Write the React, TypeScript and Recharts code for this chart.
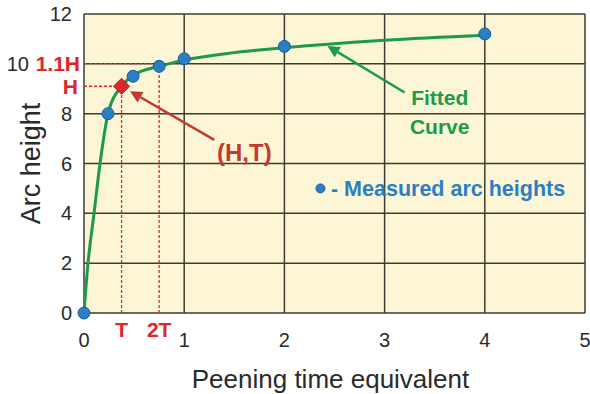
import {
  ComposedChart,
  Line,
  Scatter,
  XAxis,
  YAxis,
  CartesianGrid,
  ReferenceLine,
  ReferenceDot,
} from "recharts";

// measured arc heights (blue dots)
const measuredTime = [0, 0.24, 0.49, 0.75, 1, 2, 4];
const measuredHeight = [0, 8.0, 9.5, 9.9, 10.2, 10.7, 11.2];

// fitted curve
const fitTime = [0, 0.04, 0.1, 0.16, 0.24, 0.375, 0.5, 0.75, 1, 1.5, 2, 3, 4];
const fitHeight = [0, 2, 4, 6, 8, 9.1, 9.55, 9.9, 10.15, 10.45, 10.65, 10.95, 11.15];

// saturation point (H,T)
const H = 9.1;
const T = 0.375;

const xTicks = [0, 1, 2, 3, 4, 5];
const yTicks = [0, 2, 4, 6, 8, 10, 12];

const measured = measuredTime.map((t, i) => ({ t, h: measuredHeight[i] }));
const fitted = fitTime.map((t, i) => ({ t, h: fitHeight[i] }));
const saturation = [{ t: T, h: H }];

const FONT = "'Liberation Sans', Arial, sans-serif";
const RED = "#e0262b";
const DARK_RED = "#c23a2e";
const GREEN = "#1d9a4a";
const BLUE = "#2a7fc4";
const GRID = "#3f3b2e";
const TEXT = "#2a2a2a";

const arrow = (color: string) => (p: any) => {
  const { x1, y1, x2, y2 } = p;
  const a = Math.atan2(y2 - y1, x2 - x1);
  const len = 12;
  const w = 6;
  const bx = x2 - len * Math.cos(a);
  const by = y2 - len * Math.sin(a);
  const pts = [
    `${x2},${y2}`,
    `${bx + w * Math.sin(a)},${by - w * Math.cos(a)}`,
    `${bx - w * Math.sin(a)},${by + w * Math.cos(a)}`,
  ].join(" ");
  return (
    <g>
      <line x1={x1} y1={y1} x2={bx} y2={by} stroke={color} strokeWidth={2.5} />
      <polygon points={pts} fill={color} />
    </g>
  );
};

const YTick = (p: any) => {
  const { x, y, payload } = p;
  // "10" is pushed left to make room for the 1.1H label
  const dx = payload.value === 10 ? -43 : 0;
  return (
    <text x={x + dx} y={y} dy="0.35em" textAnchor="end" fill={TEXT} fontSize={20} fontFamily={FONT}>
      {payload.value}
    </text>
  );
};

const YLabel = (p: any) => {
  const { viewBox } = p;
  const cx = viewBox.x + 31;
  const cy = viewBox.y + viewBox.height / 2;
  return (
    <text
      x={cx}
      y={cy}
      transform={`rotate(-90 ${cx} ${cy})`}
      textAnchor="middle"
      dominantBaseline="central"
      fill={TEXT}
      fontSize={27}
      fontFamily={FONT}
    >
      Arc height
    </text>
  );
};

const redLabel = { fill: RED, fontSize: 21, fontWeight: "bold", fontFamily: FONT };

export default function App() {
  return (
    <div style={{ position: "absolute", left: 0, top: 0 }}>
      <ComposedChart width={590} height={394} margin={{ top: 14, right: 5, left: 0, bottom: 0 }}>
        <CartesianGrid stroke={GRID} strokeWidth={1.5} fill="#fcf6d6" fillOpacity={1} />
        <XAxis
          type="number"
          dataKey="t"
          domain={[0, 5]}
          ticks={xTicks}
          axisLine={false}
          tickLine={false}
          tickSize={0}
          tickMargin={20}
          height={81}
          tick={{ fill: TEXT, fontSize: 20, fontFamily: FONT }}
          label={{
            value: "Peening time equivalent",
            position: "insideBottom",
            offset: 6,
            fill: TEXT,
            fontSize: 26,
            fontFamily: FONT,
            dx: -4,
          }}
        />
        <YAxis
          type="number"
          dataKey="h"
          domain={[0, 12]}
          ticks={yTicks}
          axisLine={false}
          tickLine={false}
          tickSize={0}
          tickMargin={12}
          width={84}
          tick={<YTick />}
          label={<YLabel />}
        />

        {/* dashed construction lines */}
        <ReferenceLine
          segment={[{ x: 0, y: H }, { x: T, y: H }]}
          stroke={RED}
          strokeDasharray="3 2"
          strokeWidth={1.3}
          ifOverflow="visible"
          label={{ value: "H", position: "left", offset: 6, ...redLabel }}
        />
        <ReferenceLine
          segment={[{ x: 0, y: 1.1 * H }, { x: 2 * T, y: 1.1 * H }]}
          stroke={RED}
          strokeDasharray="3 2"
          strokeWidth={1.3}
          ifOverflow="visible"
          label={{ value: "1.1H", position: "left", offset: 4, ...redLabel }}
        />
        <ReferenceLine
          segment={[{ x: T, y: 0 }, { x: T, y: H }]}
          stroke={RED}
          strokeDasharray="3 2"
          strokeWidth={1.3}
          ifOverflow="visible"
          label={{ value: "T", position: "bottom", offset: 9, ...redLabel }}
        />
        <ReferenceLine
          segment={[{ x: 2 * T, y: 0 }, { x: 2 * T, y: 1.1 * H }]}
          stroke={RED}
          strokeDasharray="3 2"
          strokeWidth={1.3}
          ifOverflow="visible"
          label={{ value: "2T", position: "bottom", offset: 9, ...redLabel }}
        />

        <Line
          data={fitted}
          dataKey="h"
          type="monotone"
          stroke={GREEN}
          strokeWidth={3}
          dot={false}
          activeDot={false}
          isAnimationActive={false}
        />

        {/* arrows */}
        <ReferenceLine
          segment={[{ x: 1.3, y: 6.95 }, { x: 0.46, y: 8.9 }]}
          shape={arrow(DARK_RED)}
          ifOverflow="visible"
        />
        <ReferenceLine
          segment={[{ x: 3.2, y: 8.85 }, { x: 2.43, y: 10.72 }]}
          shape={arrow(GREEN)}
          ifOverflow="visible"
        />

        <Scatter
          data={measured}
          dataKey="h"
          isAnimationActive={false}
          shape={(p: any) => (
            <circle cx={p.cx} cy={p.cy} r={6} fill={BLUE} stroke="#1b5f96" strokeWidth={1} />
          )}
        />
        <Scatter
          data={saturation}
          dataKey="h"
          isAnimationActive={false}
          shape={(p: any) => (
            <polygon
              points={`${p.cx},${p.cy - 8} ${p.cx + 8},${p.cy} ${p.cx},${p.cy + 8} ${p.cx - 8},${p.cy}`}
              fill={RED}
              stroke="#b01818"
              strokeWidth={1}
            />
          )}
        />

        {/* annotations */}
        <ReferenceDot
          x={1.6}
          y={6.45}
          r={0}
          label={{ value: "(H,T)", position: "center", fill: DARK_RED, fontSize: 24, fontWeight: "bold", fontFamily: FONT }}
        />
        <ReferenceDot
          x={3.55}
          y={8.65}
          r={0}
          label={{ value: "Fitted", position: "center", fill: GREEN, fontSize: 21, fontWeight: "bold", fontFamily: FONT }}
        />
        <ReferenceDot
          x={3.55}
          y={7.5}
          r={0}
          label={{ value: "Curve", position: "center", fill: GREEN, fontSize: 21, fontWeight: "bold", fontFamily: FONT }}
        />
        <ReferenceDot
          x={2.36}
          y={5.0}
          r={4.5}
          fill={BLUE}
          stroke="#1b5f96"
          label={{
            value: "- Measured arc heights",
            position: "right",
            offset: 6,
            fill: BLUE,
            fontSize: 21.5,
            fontWeight: "bold",
            fontFamily: FONT,
          }}
        />
      </ComposedChart>
    </div>
  );
}
